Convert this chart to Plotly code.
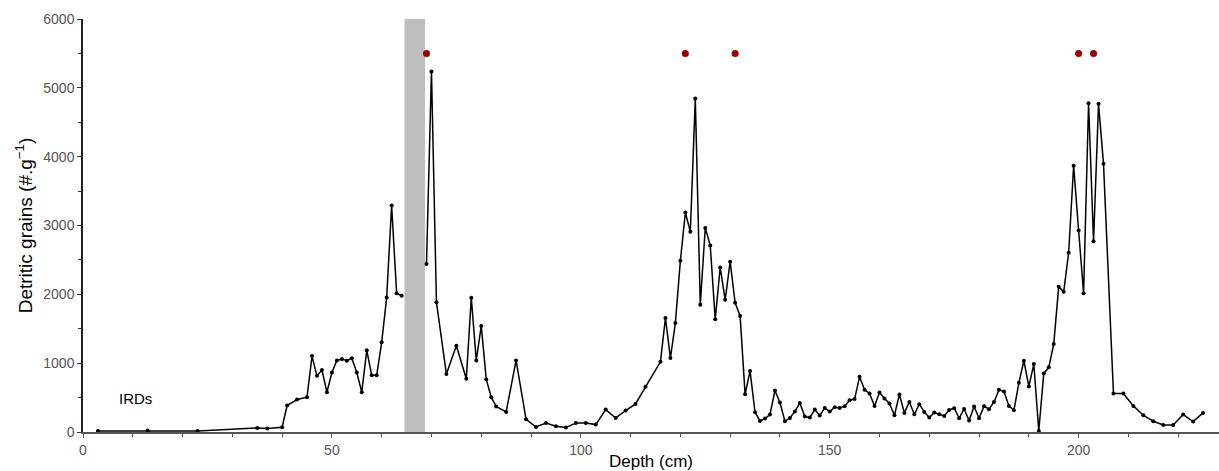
import plotly.graph_objects as go

depth = [3, 13, 23, 35, 37, 40, 41, 43, 45, 46, 47, 48, 49, 50, 51, 52, 53, 54, 55, 56,
         57, 58, 59, 60, 61, 62, 63, 64, None,
         69, 70, 71, 73, 75, 77, 78, 79, 80, 81, 82, 83, 85, 87, 89, 91, 93, 95, 97, 99,
         101, 103, 105, 107, 109, 111, 113, 116, 117, 118, 119, 120, 121, 122, 123, 124,
         125, 126, 127, 128, 129, 130, 131, 132, 133, 134, 135, 136, 137, 138, 139, 140,
         141, 142, 143, 144, 145, 146, 147, 148, 149, 150, 151, 152, 153, 154, 155, 156,
         157, 158, 159, 160, 161, 162, 163, 164, 165, 166, 167, 168, 169, 170, 171, 172,
         173, 174, 175, 176, 177, 178, 179, 180, 181, 182, 183, 184, 185, 186, 187, 188,
         189, 190, 191, 192, 193, 194, 195, 196, 197, 198, 199, 200, 201, 202, 203, 204,
         205, 207, 209, 211, 213, 215, 217, 219, 221, 223, 225]
grains = [15, 20, 15, 58, 50, 70, 385, 472, 506, 1103, 816, 899, 579, 865, 1040, 1060, 1035, 1070, 865, 579,
          1186, 826, 826, 1303, 1953, 3290, 2017, 1978, None,
          2440, 5239, 1886, 841, 1254, 773, 1949, 1040, 1541, 768, 506, 370, 292, 1040, 185, 73, 131, 83, 64, 131,
          131, 108, 326, 204, 312, 408, 656, 1020, 1657, 1074, 1585, 2488, 3188, 2911, 4845, 1847,
          2965, 2711, 1638, 2391, 1920, 2474, 1876, 1686, 550, 885, 287, 160, 195, 254, 603, 428,
          156, 204, 297, 423, 224, 210, 326, 239, 350, 297, 360, 350, 375, 462, 481, 802,
          612, 560, 379, 574, 487, 414, 243, 545, 277, 437, 258, 404, 292, 210, 283, 258,
          233, 321, 345, 200, 335, 166, 370, 200, 375, 331, 437, 612, 589, 379, 316, 714,
          1035, 662, 987, 15, 851, 939, 1278, 2109, 2036, 2605, 3869, 2926, 2017, 4777, 2770, 4767,
          3898, 560, 560, 379, 243, 156, 102, 102, 254, 151, 277]

ird_depth = [69, 121, 131, 200, 203]
ird_level = [5500, 5500, 5500, 5500, 5500]

band_start, band_end = 64.6, 68.7

x_ticks = [0, 50, 100, 150, 200]
y_ticks = [0, 1000, 2000, 3000, 4000, 5000, 6000]

fig = go.Figure()
fig.add_shape(type="rect", xref="x", yref="y", x0=band_start, x1=band_end, y0=0, y1=6000,
              fillcolor="#bebebe", line_width=0, layer="below")
fig.add_trace(go.Scatter(x=depth, y=grains, mode="lines+markers", connectgaps=False,
                         line=dict(color="black", width=1.5),
                         marker=dict(color="black", size=4), showlegend=False))
fig.add_trace(go.Scatter(x=ird_depth, y=ird_level, mode="markers",
                         marker=dict(color="#9b0000", size=7), showlegend=False))
fig.add_annotation(x=10.5, y=480, xref="x", yref="y", text="IRDs", showarrow=False,
                   font=dict(size=15, color="black", family="Liberation Sans"))

fig.update_layout(
    width=1219, height=471,
    margin=dict(l=83, r=0, t=19, b=39),
    plot_bgcolor="white", paper_bgcolor="white",
    font=dict(family="Liberation Sans", size=14, color="#555555"),
)
fig.update_xaxes(range=[0, 228.2], tickvals=x_ticks, ticks="outside", ticklen=4,
                 tickcolor="#555555", showline=True, linecolor="#555555", linewidth=2,
                 showgrid=False, zeroline=False, automargin=False,
                 minor=dict(dtick=10, ticks="outside", ticklen=3, tickcolor="#555555"),
                 title=dict(text="Depth (cm)", font=dict(size=17, color="black"), standoff=2),
                 tickfont=dict(size=14, color="#555555"))
fig.update_yaxes(range=[0, 6000], tickvals=y_ticks, ticks="outside", ticklen=4,
                 tickcolor="#333333", showline=True, linecolor="#222222", linewidth=1.5,
                 showgrid=False, zeroline=False, automargin=False,
                 minor=dict(dtick=500, ticks="outside", ticklen=3, tickcolor="#333333"),
                 title=dict(text="Detritic grains (#.g<sup>−1</sup>)", font=dict(size=19, color="black"), standoff=6),
                 tickfont=dict(size=14, color="#555555"))

fig.write_html("out.html", config={"displayModeBar": False},
               post_script="document.body.style.margin='0px';document.body.style.overflow='hidden';")
